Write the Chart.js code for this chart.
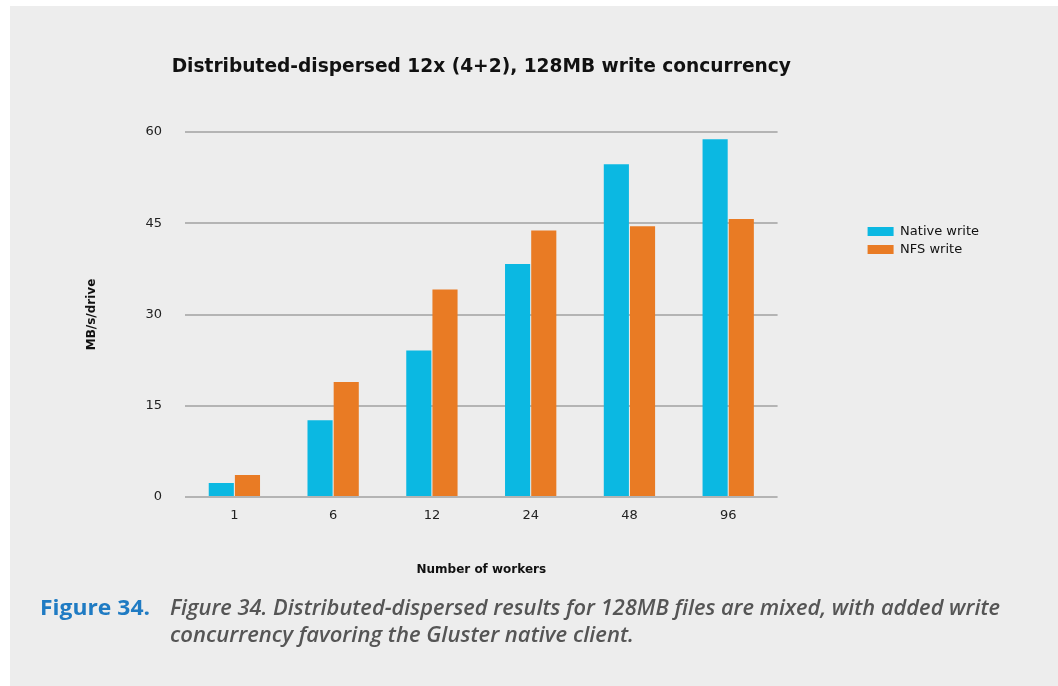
<!DOCTYPE html>
<html>
<head>
<meta charset="utf-8">
<script src="https://cdn.jsdelivr.net/npm/chart.js@4/dist/chart.umd.min.js"></script>
<style>
  html, body { margin: 0; padding: 0; background: #ffffff; }
  #page { position: absolute; left: 0; top: 0; width: 1058px; height: 686px; overflow: hidden; }
  #panel { position: absolute; left: 10px; top: 6px; right: 0; bottom: 0; background: #ededed; }
  #wrap { position: absolute; left: 0; top: 0; width: 1058px; height: 686px; }
  .cap { position: absolute; white-space: nowrap; transform-origin: 0 50%; font-size: 21px; line-height: 26px; }
  #fig { left: 40px; top: 594px; color: #1f7bc3; font-family: "Open Sans", "Noto Sans", sans-serif; font-weight: 700; }
  #l1 { left: 170px; top: 594px; color: #555555; font-family: "Open Sans", "Noto Sans", sans-serif; font-style: italic; font-weight: 600; }
  #l2 { left: 170px; top: 621px; color: #555555; font-family: "Open Sans", "Noto Sans", sans-serif; font-style: italic; font-weight: 600; }
</style>
</head>
<body>
<div id="page">
  <div id="panel"></div>
  <div id="wrap"><canvas id="c" width="1058" height="686"></canvas></div>
  <div class="cap" id="fig" data-w="110">Figure 34.</div>
  <div class="cap" id="l1" data-w="830">Figure 34. Distributed-dispersed results for 128MB files are mixed, with added write</div>
  <div class="cap" id="l2" data-w="464">concurrency favoring the Gluster native client.</div>
</div>
<script>
const categories = ["1", "6", "12", "24", "48", "96"];
const nativeWrite = [2.3, 12.6, 24.1, 38.3, 54.7, 58.8];
const nfsWrite = [3.6, 18.9, 34.1, 43.8, 44.5, 45.7];
const seriesNames = ["Native write", "NFS write"];
const chartTitle = "Distributed-dispersed 12x (4+2), 128MB write concurrency";
const xTitle = "Number of workers";
const yTitle = "MB/s/drive";

document.querySelectorAll('.cap').forEach(el => {
  const target = parseFloat(el.dataset.w);
  const w = el.getBoundingClientRect().width;
  el.style.transform = 'scaleX(' + (target / w) + ')';
});

const FONT = '"DejaVu Sans", "Open Sans", sans-serif';

// Widen the title box (kept centred over the plot area) so the text is not squeezed.
const titleWiden = {
  id: 'titleWiden',
  afterLayout(chart) {
    const t = chart.titleBlock;
    if (!t) return;
    const c = (chart.chartArea.left + chart.chartArea.right) / 2;
    t.left = c - 340;
    t.right = c + 340;
    t.width = 680;
  }
};

new Chart(document.getElementById('c'), {
  type: 'bar',
  data: {
    labels: categories,
    datasets: [
      { label: seriesNames[0], data: nativeWrite, backgroundColor: '#0bb8e2', borderWidth: 0 },
      { label: seriesNames[1], data: nfsWrite, backgroundColor: '#e97b24', borderWidth: 0 }
    ]
  },
  plugins: [titleWiden],
  options: {
    responsive: false,
    animation: false,
    devicePixelRatio: 1,
    layout: { padding: { left: 10, right: 69, top: 6, bottom: 0 } },
    datasets: { bar: { categoryPercentage: 0.53, barPercentage: 0.96 } },
    plugins: {
      title: {
        display: true,
        text: chartTitle,
        fullSize: false,
        color: '#111111',
        font: { family: FONT, size: 18.6, weight: 'bold' },
        padding: { top: 49.84, bottom: 53.84 }
      },
      legend: {
        display: true,
        position: 'right',
        align: 'start',
        fullSize: false,
        title: { display: true, text: ' ', font: { size: 10 }, padding: { top: 76, bottom: 0 } },
        labels: {
          boxWidth: 26,
          boxHeight: 9,
          padding: 5,
          color: '#111111',
          font: { family: FONT, size: 13 }
        }
      },
      tooltip: { enabled: false }
    },
    scales: {
      x: {
        grid: { display: false, drawTicks: false },
        border: { display: false },
        ticks: { color: '#222222', padding: 11, font: { family: FONT, size: 13 } },
        title: {
          display: true, text: xTitle, color: '#111111',
          font: { family: FONT, size: 12, weight: 'bold' },
          padding: { top: 0, bottom: 108.8 }
        },
        afterFit: s => { s.height = 189; }
      },
      y: {
        min: 0, max: 60,
        ticks: { stepSize: 15, color: '#222222', padding: 23, font: { family: FONT, size: 13 } },
        grid: { color: '#b4b4b4', lineWidth: 2, drawTicks: false },
        border: { display: false },
        title: {
          display: true, text: yTitle, color: '#111111',
          font: { family: FONT, size: 12, weight: 'bold' },
          padding: { top: 74.8, bottom: 0 }
        },
        afterFit: s => { s.width = 175; }
      },
      y2: {
        position: 'right',
        display: true,
        ticks: { display: false },
        grid: { display: false, drawTicks: false },
        border: { display: false },
        afterFit: s => { s.width = 85; }
      }
    }
  }
});
</script>
</body>
</html>
